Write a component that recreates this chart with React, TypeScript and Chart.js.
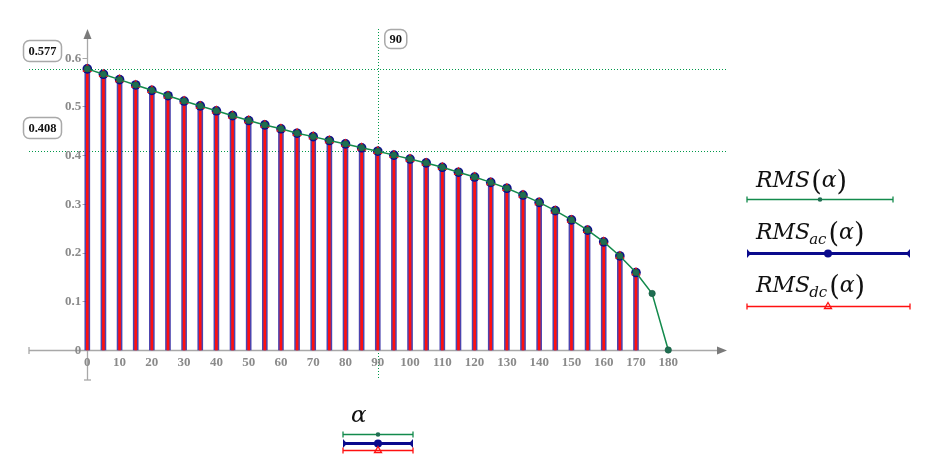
import React, { useEffect, useRef } from 'react';
import { Chart, registerables } from 'chart.js';

Chart.register(...registerables);

// ---------- data ----------
const alphaDeg = [0, 5, 10, 15, 20, 25, 30, 35, 40, 45, 50, 55, 60, 65, 70, 75, 80, 85, 90, 95, 100, 105, 110, 115, 120, 125, 130, 135, 140, 145, 150, 155, 160, 165, 170, 175, 180];
const rmsValues = [0.577, 0.566, 0.555, 0.544, 0.533, 0.522, 0.511, 0.501, 0.491, 0.481, 0.471, 0.462, 0.454, 0.445, 0.438, 0.43, 0.423, 0.415, 0.408, 0.4, 0.392, 0.384, 0.375, 0.365, 0.355, 0.344, 0.332, 0.318, 0.303, 0.286, 0.267, 0.246, 0.222, 0.193, 0.159, 0.116, 0];
const stemAlpha = [0, 5, 10, 15, 20, 25, 30, 35, 40, 45, 50, 55, 60, 65, 70, 75, 80, 85, 90, 95, 100, 105, 110, 115, 120, 125, 130, 135, 140, 145, 150, 155, 160, 165, 170];
const rmsAcValues = [0.577, 0.566, 0.555, 0.544, 0.533, 0.522, 0.511, 0.501, 0.491, 0.481, 0.471, 0.462, 0.454, 0.445, 0.438, 0.43, 0.423, 0.415, 0.408, 0.4, 0.392, 0.384, 0.375, 0.365, 0.355, 0.344, 0.332, 0.318, 0.303, 0.286, 0.267, 0.246, 0.222, 0.193, 0.159];
const rmsDcValues = [0.577, 0.566, 0.555, 0.544, 0.533, 0.522, 0.511, 0.501, 0.491, 0.481, 0.471, 0.462, 0.454, 0.445, 0.438, 0.43, 0.423, 0.415, 0.408, 0.4, 0.392, 0.384, 0.375, 0.365, 0.355, 0.344, 0.332, 0.318, 0.303, 0.286, 0.267, 0.246, 0.222, 0.193, 0.159];
const xTickValues = [0, 10, 20, 30, 40, 50, 60, 70, 80, 90, 100, 110, 120, 130, 140, 150, 160, 170, 180];
const yTickValues = [0, 0.1, 0.2, 0.3, 0.4, 0.5, 0.6];
const yTickLabels = ['0', '0.1', '0.2', '0.3', '0.4', '0.5', '0.6'];
const markerLevels = [0.577, 0.408];
const markerLevelLabels = ['0.577', '0.408'];
const markerAlpha = 90;
const markerAlphaLabel = '90';
const legendSubs = ['', 'ac', 'dc'];

// ---------- styles ----------
const GREEN = '#138a4c';
const GREEN_PT = '#1f6e52';
const NAVY = '#0a0a8c';
const RED = '#ff1010';
const AXIS = '#a8a8a8';
const TICK_TXT = '#8a8a8a';

const xMin = -18.06;
const xMax = 198.2;
const yMin = -0.0616;
const yMax = 0.6589;

function roundRect(ctx: CanvasRenderingContext2D, x: number, y: number, w: number, h: number, r: number) {
  ctx.beginPath();
  ctx.moveTo(x + r, y);
  ctx.lineTo(x + w - r, y);
  ctx.arcTo(x + w, y, x + w, y + r, r);
  ctx.lineTo(x + w, y + h - r);
  ctx.arcTo(x + w, y + h, x + w - r, y + h, r);
  ctx.lineTo(x + r, y + h);
  ctx.arcTo(x, y + h, x, y + h - r, r);
  ctx.lineTo(x, y + r);
  ctx.arcTo(x, y, x + r, y, r);
  ctx.closePath();
}

function line(ctx: CanvasRenderingContext2D, x1: number, y1: number, x2: number, y2: number) {
  ctx.beginPath();
  ctx.moveTo(x1, y1);
  ctx.lineTo(x2, y2);
  ctx.stroke();
}

function drawMathLabel(ctx: CanvasRenderingContext2D, x: number, baseline: number, sub: string) {
  ctx.fillStyle = '#111';
  ctx.textAlign = 'left';
  ctx.textBaseline = 'alphabetic';
  ctx.font = 'italic 22px "DejaVu Serif"';
  ctx.fillText('RMS', x, baseline);
  let cx = x + ctx.measureText('RMS').width;
  if (sub) {
    ctx.font = 'italic 15px "DejaVu Serif"';
    ctx.fillText(sub, cx - 1, baseline + 5);
    cx += ctx.measureText(sub).width;
  }
  ctx.font = '27px "DejaVu Serif"';
  ctx.fillText('(', cx + 1, baseline + 3);
  cx += ctx.measureText('(').width + 1;
  ctx.font = 'italic 22px "DejaVu Serif"';
  ctx.fillText('α', cx, baseline);
  cx += ctx.measureText('α').width;
  ctx.font = '27px "DejaVu Serif"';
  ctx.fillText(')', cx, baseline + 3);
}

function sampleGreen(ctx: CanvasRenderingContext2D, x1: number, x2: number, y: number, xm: number) {
  ctx.strokeStyle = GREEN;
  ctx.lineWidth = 1.3;
  line(ctx, x1, y, x2, y);
  line(ctx, x1, y - 3, x1, y + 3);
  line(ctx, x2, y - 3, x2, y + 3);
  ctx.fillStyle = GREEN_PT;
  ctx.beginPath();
  ctx.arc(xm, y, 2.3, 0, Math.PI * 2);
  ctx.fill();
}

function sampleBlue(ctx: CanvasRenderingContext2D, x1: number, x2: number, y: number, xm: number) {
  ctx.strokeStyle = NAVY;
  ctx.fillStyle = NAVY;
  ctx.lineWidth = 3;
  line(ctx, x1, y, x2, y);
  ctx.beginPath();
  ctx.moveTo(x1, y - 4.5); ctx.lineTo(x1 + 4, y); ctx.lineTo(x1, y + 4.5); ctx.closePath(); ctx.fill();
  ctx.beginPath();
  ctx.moveTo(x2, y - 4.5); ctx.lineTo(x2 - 4, y); ctx.lineTo(x2, y + 4.5); ctx.closePath(); ctx.fill();
  ctx.beginPath();
  ctx.arc(xm, y, 4, 0, Math.PI * 2);
  ctx.fill();
}

function sampleRed(ctx: CanvasRenderingContext2D, x1: number, x2: number, y: number, xm: number) {
  ctx.strokeStyle = RED;
  ctx.lineWidth = 1.3;
  line(ctx, x1, y, x2, y);
  line(ctx, x1, y - 3, x1, y + 3);
  line(ctx, x2, y - 3, x2, y + 3);
  ctx.beginPath();
  ctx.moveTo(xm, y - 4);
  ctx.lineTo(xm + 3.5, y + 2);
  ctx.lineTo(xm - 3.5, y + 2);
  ctx.closePath();
  ctx.stroke();
}

const decorPlugin = {
  id: 'decor',
  beforeDatasetsDraw(chart: any) {
    const ctx: CanvasRenderingContext2D = chart.ctx;
    const xs = chart.scales.x;
    const ys = chart.scales.y;
    const { left, right, top, bottom } = chart.chartArea;
    const x0 = Math.round(xs.getPixelForValue(0)) + 0.5;
    const y0 = Math.round(ys.getPixelForValue(0)) + 0.5;
    ctx.save();
    // marker lines
    ctx.strokeStyle = '#00994a';
    ctx.lineWidth = 1;
    ctx.setLineDash([1, 2]);
    markerLevels.forEach((v) => {
      const y = Math.round(ys.getPixelForValue(v)) + 0.5;
      line(ctx, Math.round(left), y, Math.round(right), y);
    });
    const xm = Math.round(xs.getPixelForValue(markerAlpha)) + 0.5;
    line(ctx, xm, Math.round(top), xm, Math.round(bottom));
    ctx.setLineDash([]);

    // axes
    ctx.strokeStyle = AXIS;
    ctx.lineWidth = 1.3;
    line(ctx, left, y0, right - 6, y0);
    line(ctx, x0, bottom, x0, top + 6);
    line(ctx, left, y0 - 3.5, left, y0 + 3.5);
    line(ctx, x0 - 3.5, bottom, x0 + 3.5, bottom);
    ctx.fillStyle = '#7a7a7a';
    ctx.beginPath();
    ctx.moveTo(right, y0); ctx.lineTo(right - 10, y0 - 4); ctx.lineTo(right - 10, y0 + 4); ctx.closePath(); ctx.fill();
    ctx.beginPath();
    ctx.moveTo(x0, top); ctx.lineTo(x0 - 4, top + 10); ctx.lineTo(x0 + 4, top + 10); ctx.closePath(); ctx.fill();

    // y ticks
    ctx.strokeStyle = AXIS;
    ctx.lineWidth = 1;
    yTickValues.forEach((v) => {
      const y = Math.round(ys.getPixelForValue(v)) + 0.5;
      line(ctx, x0 - 5, y, x0, y);
    });
    ctx.restore();
  },
  afterDraw(chart: any) {
    const ctx: CanvasRenderingContext2D = chart.ctx;
    const xs = chart.scales.x;
    const ys = chart.scales.y;
    const x0 = xs.getPixelForValue(0);
    const y0 = ys.getPixelForValue(0);
    ctx.save();
    // tick labels
    ctx.fillStyle = TICK_TXT;
    ctx.font = 'bold 13px "Liberation Serif"';
    ctx.textAlign = 'center';
    ctx.textBaseline = 'alphabetic';
    xTickValues.forEach((v) => {
      ctx.fillText(String(v), xs.getPixelForValue(v), y0 + 16.5);
    });
    ctx.textAlign = 'right';
    ctx.textBaseline = 'middle';
    yTickValues.forEach((v, i) => {
      ctx.fillText(yTickLabels[i], x0 - 6, ys.getPixelForValue(v) + 0.5);
    });

    // marker value boxes
    ctx.font = 'bold 12.5px "Liberation Serif"';
    ctx.textAlign = 'center';
    ctx.textBaseline = 'middle';
    const boxTops = [40, 117];
    markerLevelLabels.forEach((lab, i) => {
      ctx.fillStyle = '#fff';
      ctx.strokeStyle = '#a9a9a9';
      ctx.lineWidth = 1.5;
      roundRect(ctx, 23.5, boxTops[i] + 0.5, 38, 21, 6);
      ctx.fill();
      ctx.stroke();
      ctx.fillStyle = '#111';
      ctx.fillText(lab, 42.5, boxTops[i] + 11.5);
    });
    const xm = xs.getPixelForValue(markerAlpha);
    ctx.fillStyle = '#fff';
    ctx.strokeStyle = '#a9a9a9';
    roundRect(ctx, xm + 7, 29.5, 22, 19, 6);
    ctx.fill();
    ctx.stroke();
    ctx.fillStyle = '#111';
    ctx.fillText(markerAlphaLabel, xm + 18, 39.5);

    // legend (right)
    const baselines = [187, 238.5, 291.5];
    legendSubs.forEach((s, i) => drawMathLabel(ctx, 756, baselines[i], s));
    sampleGreen(ctx, 747, 893, 199.5, 820);
    sampleBlue(ctx, 747, 910, 253.5, 828);
    sampleRed(ctx, 747, 910, 306.5, 828);

    // x legend
    ctx.fillStyle = '#111';
    ctx.font = 'italic 23px "DejaVu Serif"';
    ctx.textAlign = 'left';
    ctx.textBaseline = 'alphabetic';
    ctx.fillText('α', 351, 422);
    sampleGreen(ctx, 343, 413, 434.5, 378);
    sampleBlue(ctx, 343, 413, 443.5, 378);
    sampleRed(ctx, 343, 413, 450.5, 378);
    ctx.restore();
  },
};

export default function App() {
  const ref = useRef<HTMLCanvasElement | null>(null);
  useEffect(() => {
    if (!ref.current) return;
    const rmsPts = alphaDeg.map((a, i) => ({ x: a, y: rmsValues[i] }));
    const acPts = stemAlpha.map((a, i) => ({ x: a, y: rmsAcValues[i] }));
    const dcPts = stemAlpha.map((a, i) => ({ x: a, y: rmsDcValues[i] }));
    const chart = new Chart(ref.current, {
      type: 'bar',
      data: {
        datasets: [
          {
            type: 'bar',
            data: acPts,
            backgroundColor: 'rgba(45,35,160,0.85)',
            barThickness: 5,
            grouped: false,
            order: 5,
          } as any,
          {
            type: 'bar',
            data: dcPts,
            backgroundColor: RED,
            barThickness: 2,
            grouped: false,
            order: 4,
          } as any,
          {
            type: 'line',
            data: acPts,
            showLine: false,
            pointRadius: 4.8,
            pointBackgroundColor: NAVY,
            pointBorderColor: NAVY,
            pointBorderWidth: 0,
            order: 3,
          } as any,
          {
            type: 'line',
            data: dcPts,
            showLine: false,
            pointStyle: 'triangle',
            pointRadius: 5.5,
            pointBackgroundColor: RED,
            pointBorderColor: RED,
            pointBorderWidth: 0,
            order: 2,
          } as any,
          {
            type: 'line',
            data: rmsPts,
            borderColor: GREEN,
            borderWidth: 1.5,
            pointRadius: 3.2,
            pointBackgroundColor: GREEN_PT,
            pointBorderColor: '#175c40',
            pointBorderWidth: 0.6,
            tension: 0,
            order: 1,
          } as any,
        ],
      },
      options: {
        animation: false,
        responsive: false,
        devicePixelRatio: 1,
        layout: { padding: { left: 29, right: 205, top: 29, bottom: 87 } },
        plugins: { legend: { display: false }, tooltip: { enabled: false } },
        scales: {
          x: { type: 'linear', min: xMin, max: xMax, display: false, offset: false },
          y: { type: 'linear', min: yMin, max: yMax, display: false },
        },
      } as any,
      plugins: [decorPlugin],
    });
    return () => chart.destroy();
  }, []);
  return (
    <div style={{ position: 'fixed', left: 0, top: 0, width: 932, height: 467, background: '#fff' }}>
      <canvas ref={ref} width={932} height={467} style={{ width: 932, height: 467 }} />
    </div>
  );
}
